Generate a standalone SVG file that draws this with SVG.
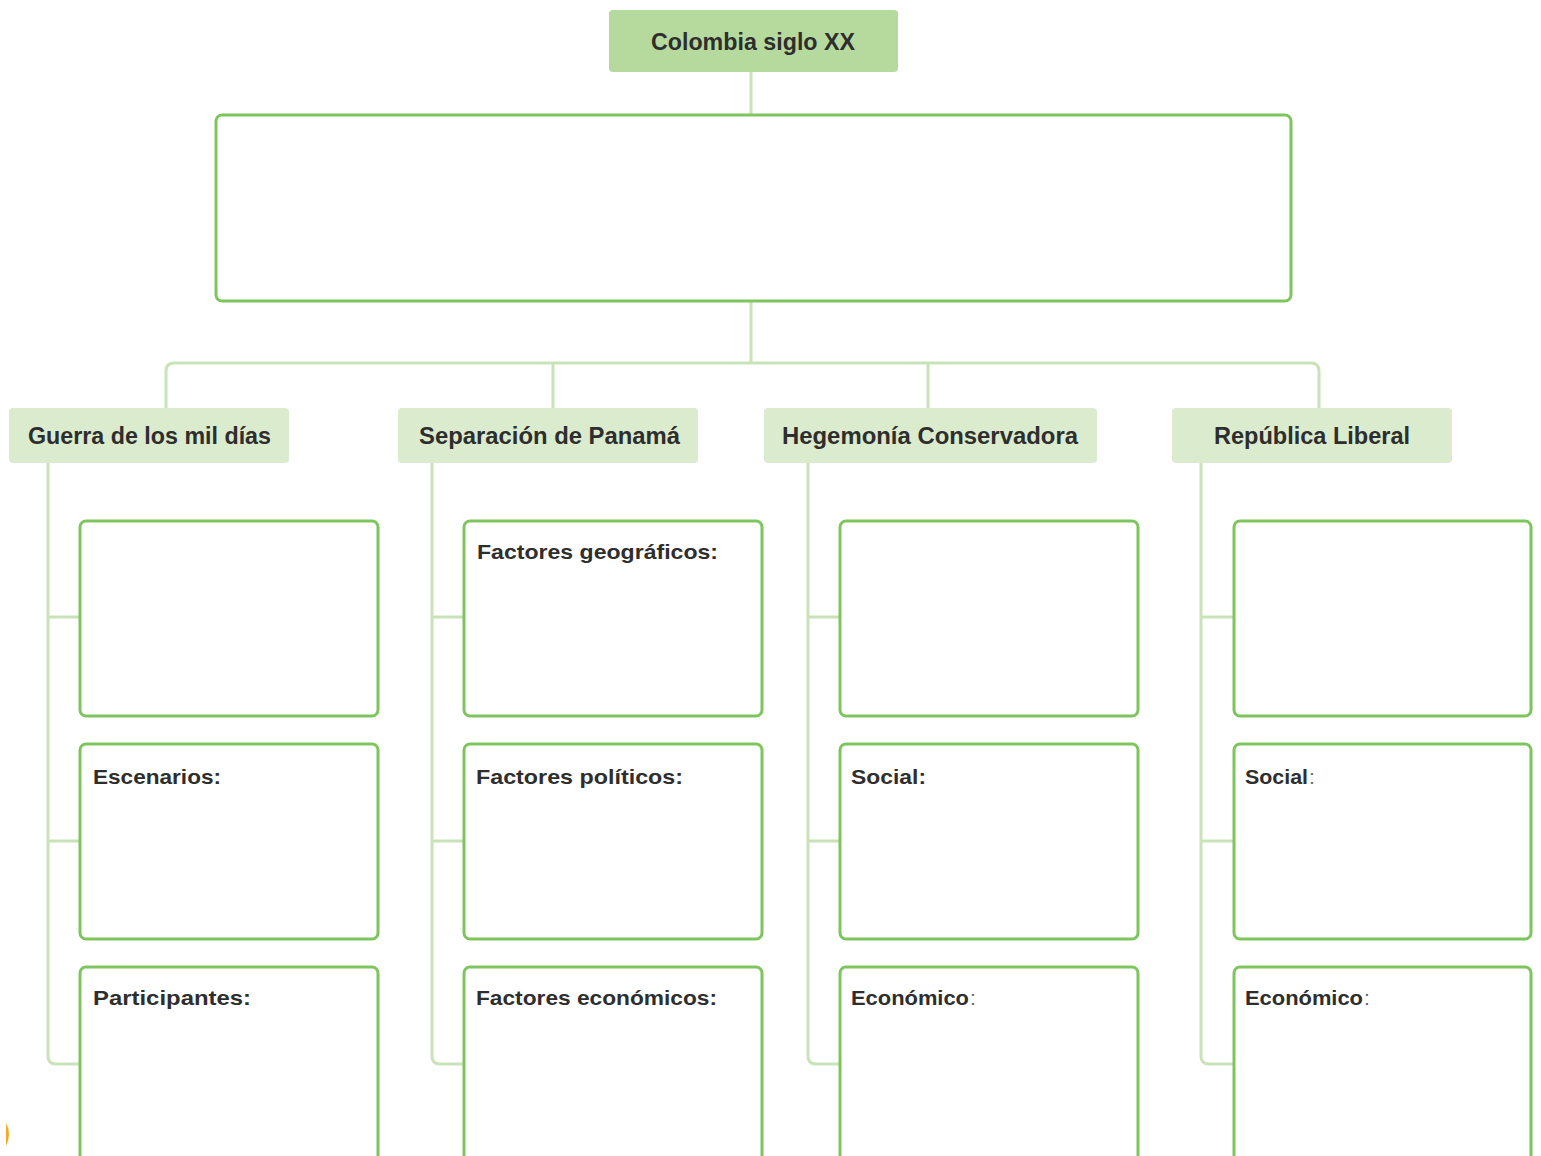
<svg xmlns="http://www.w3.org/2000/svg" width="1541" height="1156" viewBox="0 0 1541 1156">
<style>
.conn{fill:none;stroke:#c9e3b8;stroke-width:3;}
.box{fill:#fff;stroke:#7dc55c;stroke-width:3;}
.top{fill:#b6da9e;}
.cat{fill:#dbebcd;}
.t{font-family:"Liberation Sans",Arial,sans-serif;font-weight:bold;fill:#2e2e2e;}
.h{font-size:23.5px;}
.l{font-size:21px;}
.c{font-weight:normal;fill:#666;}
</style>
<rect width="1541" height="1156" fill="#fff"/>
<g id="connectors">
<path class="conn" d="M751,72 V115"/>
<path class="conn" d="M751,301 V363"/>
<path class="conn" d="M166,408 V371 Q166,363 174,363 H1311 Q1319,363 1319,371 V408"/>
<path class="conn" d="M553,363 V408"/>
<path class="conn" d="M928,363 V408"/>
<path class="conn" d="M48,463 V1056 Q48,1064 56,1064 H80 M48,617 H80 M48,841 H80"/>
<path class="conn" d="M432,463 V1056 Q432,1064 440,1064 H464 M432,617 H464 M432,841 H464"/>
<path class="conn" d="M808,463 V1056 Q808,1064 816,1064 H840 M808,617 H840 M808,841 H840"/>
<path class="conn" d="M1201,463 V1056 Q1201,1064 1209,1064 H1234 M1201,617 H1234 M1201,841 H1234"/>
</g>
<g id="root">
<rect class="top" x="609" y="10" width="289" height="62" rx="4"/>
<text class="t h" x="753" y="50" text-anchor="middle" textLength="204" lengthAdjust="spacingAndGlyphs">Colombia siglo XX</text>
</g>
<g id="main-box">
<rect class="box" x="216" y="115" width="1075" height="186" rx="6"/>
</g>
<g id="guerra">
<rect class="cat" x="9" y="408" width="280" height="55" rx="4"/>
<text class="t h" x="28" y="444" textLength="243" lengthAdjust="spacingAndGlyphs">Guerra de los mil días</text>
</g>
<g id="separacion">
<rect class="cat" x="398" y="408" width="300" height="55" rx="4"/>
<text class="t h" x="419" y="444" textLength="261" lengthAdjust="spacingAndGlyphs">Separación de Panamá</text>
</g>
<g id="hegemonia">
<rect class="cat" x="764" y="408" width="333" height="55" rx="4"/>
<text class="t h" x="782" y="444" textLength="296" lengthAdjust="spacingAndGlyphs">Hegemonía Conservadora</text>
</g>
<g id="republica">
<rect class="cat" x="1172" y="408" width="280" height="55" rx="4"/>
<text class="t h" x="1214" y="444" textLength="196" lengthAdjust="spacingAndGlyphs">República Liberal</text>
</g>
<g id="guerra-1"><rect class="box" x="80" y="521" width="298" height="195" rx="6"/></g>
<g id="guerra-2"><rect class="box" x="80" y="744" width="298" height="195" rx="6"/>
<text class="t l" x="93" y="784" textLength="128" lengthAdjust="spacingAndGlyphs">Escenarios:</text></g>
<g id="guerra-3"><rect class="box" x="80" y="967" width="298" height="230" rx="6"/>
<text class="t l" x="93" y="1005" textLength="158" lengthAdjust="spacingAndGlyphs">Participantes:</text></g>
<g id="sep-1"><rect class="box" x="464" y="521" width="298" height="195" rx="6"/>
<text class="t l" x="477" y="559" textLength="241" lengthAdjust="spacingAndGlyphs">Factores geográficos:</text></g>
<g id="sep-2"><rect class="box" x="464" y="744" width="298" height="195" rx="6"/>
<text class="t l" x="476" y="784" textLength="207" lengthAdjust="spacingAndGlyphs">Factores políticos:</text></g>
<g id="sep-3"><rect class="box" x="464" y="967" width="298" height="230" rx="6"/>
<text class="t l" x="476" y="1005" textLength="241" lengthAdjust="spacingAndGlyphs">Factores económicos:</text></g>
<g id="heg-1"><rect class="box" x="840" y="521" width="298" height="195" rx="6"/></g>
<g id="heg-2"><rect class="box" x="840" y="744" width="298" height="195" rx="6"/>
<text class="t l" x="851" y="784" textLength="75" lengthAdjust="spacingAndGlyphs">Social:</text></g>
<g id="heg-3"><rect class="box" x="840" y="967" width="298" height="230" rx="6"/>
<text class="t l" x="851" y="1005" textLength="118" lengthAdjust="spacingAndGlyphs">Económico</text><text class="t l c" x="970" y="1005">:</text></g>
<g id="rep-1"><rect class="box" x="1234" y="521" width="297" height="195" rx="6"/></g>
<g id="rep-2"><rect class="box" x="1234" y="744" width="297" height="195" rx="6"/>
<text class="t l" x="1245" y="784" textLength="63" lengthAdjust="spacingAndGlyphs">Social</text><text class="t l c" x="1309" y="784">:</text></g>
<g id="rep-3"><rect class="box" x="1234" y="967" width="297" height="230" rx="6"/>
<text class="t l" x="1245" y="1005" textLength="118" lengthAdjust="spacingAndGlyphs">Económico</text><text class="t l c" x="1364" y="1005">:</text></g>
<path d="M6,1123 Q12,1134 6,1146 Z" fill="#f7a823"/>
</svg>
